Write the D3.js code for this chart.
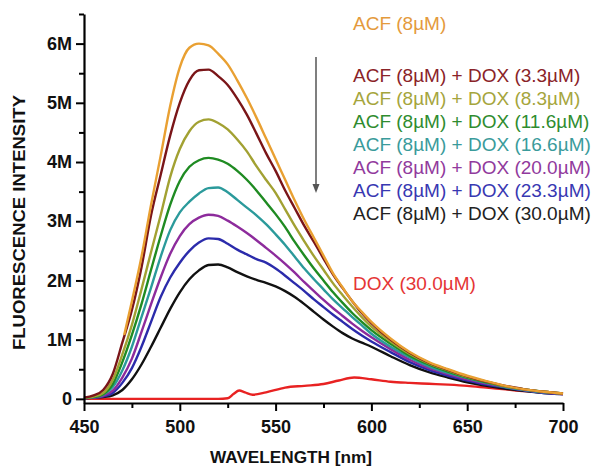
<!DOCTYPE html>
<html>
<head>
<meta charset="utf-8">
<script src="https://cdn.jsdelivr.net/npm/d3@7"></script>
<style>
  body { margin: 0; background: #fff; }
  svg { font-family: 'Liberation Sans', Arial, sans-serif; }
</style>
</head>
<body>
<svg id="chart" width="594" height="468"></svg>
<script>
// wavelength grid (nm) shared by the ACF + DOX spectra
const wavelengths = [450,455,460,465,470,475,480,485,490,495,500,505,510,515,520,525,530,535,540,545,550,
  555,560,565,570,575,580,585,590,595,600,610,620,630,640,650,660,670,680,690,700];

// ACF alone, recorded from 471 nm
const acfWavelengths = [471,475,480,485,490,495,500,505,510,515,520,525,530,535,540,545,550,555,560,565,570,
  575,580,585,590,595,600,610,620,630,640,650,660,670,680,690,700];
const acf = [1.08,1.65,2.4,3.28,4.1,4.95,5.6,5.93,6.0,5.97,5.83,5.65,5.38,5.08,4.75,4.4,4.05,3.7,3.35,3.02,2.72,
  2.42,2.12,1.88,1.65,1.47,1.3,1.02,0.79,0.62,0.5,0.39,0.3,0.22,0.16,0.12,0.09];

// intensities in millions
const dox33 = [0.02,0.06,0.15,0.42,0.95,1.5,2.22,3.1,3.78,4.45,5.0,5.38,5.55,5.56,5.45,5.3,5.07,4.8,4.48,4.15,3.85,
  3.52,3.22,2.92,2.65,2.37,2.1,1.87,1.65,1.45,1.28,1.0,0.78,0.61,0.49,0.38,0.29,0.22,0.16,0.12,0.09];
const dox83 = [0.02,0.04,0.1,0.32,0.75,1.25,1.85,2.48,3.1,3.75,4.22,4.52,4.68,4.72,4.66,4.55,4.38,4.18,3.93,3.7,3.48,
  3.2,2.92,2.66,2.41,2.18,1.95,1.75,1.56,1.38,1.22,0.97,0.76,0.6,0.48,0.37,0.29,0.21,0.16,0.12,0.09];
const dox116 = [0.02,0.03,0.08,0.25,0.62,1.08,1.6,2.18,2.75,3.28,3.68,3.92,4.03,4.07,4.04,3.97,3.85,3.7,3.52,3.32,3.12,
  2.9,2.65,2.42,2.2,2.0,1.8,1.62,1.45,1.3,1.16,0.93,0.73,0.58,0.46,0.36,0.28,0.21,0.16,0.12,0.09];
const dox166 = [0.01,0.03,0.07,0.2,0.48,0.88,1.38,1.88,2.4,2.85,3.15,3.33,3.47,3.56,3.57,3.49,3.36,3.23,3.1,2.95,2.78,
  2.6,2.4,2.2,2.02,1.85,1.68,1.53,1.38,1.24,1.1,0.88,0.7,0.55,0.44,0.35,0.27,0.2,0.15,0.11,0.09];
const dox200 = [0.01,0.02,0.05,0.14,0.36,0.68,1.13,1.6,2.05,2.45,2.75,2.95,3.06,3.11,3.09,3.01,2.91,2.8,2.68,2.55,2.42,
  2.28,2.13,1.97,1.82,1.67,1.53,1.4,1.27,1.15,1.04,0.84,0.66,0.52,0.42,0.33,0.26,0.2,0.15,0.11,0.08];
const dox233 = [0.01,0.02,0.04,0.1,0.27,0.52,0.88,1.3,1.72,2.05,2.3,2.5,2.64,2.71,2.7,2.62,2.52,2.44,2.36,2.3,2.2,
  2.08,1.95,1.82,1.68,1.55,1.42,1.3,1.18,1.07,0.97,0.79,0.62,0.49,0.39,0.31,0.24,0.19,0.14,0.1,0.08];
const dox300 = [0.01,0.02,0.03,0.06,0.15,0.33,0.58,0.88,1.2,1.52,1.8,2.02,2.17,2.26,2.27,2.22,2.14,2.07,2.01,1.96,1.9,
  1.82,1.72,1.6,1.47,1.34,1.22,1.11,1.02,0.95,0.88,0.72,0.57,0.45,0.36,0.28,0.22,0.17,0.13,0.1,0.08];

// DOX alone
const doxWavelengths = [450,520,525,528,531,534,538,545,555,565,575,583,591,600,610,620,630,640,650,660,670,680,690,700];
const doxOnly = [0,0,0.01,0.08,0.14,0.11,0.07,0.11,0.19,0.22,0.25,0.31,0.36,0.33,0.29,0.27,0.255,0.24,0.22,0.19,0.16,0.13,0.11,0.08];

const legendLabels = ['ACF (8µM)', 'ACF (8µM) + DOX (3.3µM)', 'ACF (8µM) + DOX (8.3µM)', 'ACF (8µM) + DOX (11.6µM)',
  'ACF (8µM) + DOX (16.6µM)', 'ACF (8µM) + DOX (20.0µM)', 'ACF (8µM) + DOX (23.3µM)', 'ACF (8µM) + DOX (30.0µM)',
  'DOX (30.0µM)'];
const lineColors = ['#e9a032', '#7a1518', '#a2a132', '#1f8b22', '#2b9a9b', '#8d2b9c', '#2b2bab', '#111111', '#e82222'];
const textColors = ['#e49a3c', '#8a2328', '#a5a53c', '#2f8c2f', '#3a9b9b', '#913a9d', '#3838b2', '#222222', '#e53535'];

const xTicks = [450, 500, 550, 600, 650, 700];
const xMinor = [475, 525, 575, 625, 675];
const yTicks = [0, 1, 2, 3, 4, 5, 6];
const yMinor = [0.5, 1.5, 2.5, 3.5, 4.5, 5.5, 6.5];

const svg = d3.select('#chart');

const x = d3.scaleLinear().domain([450, 700]).range([84, 563]);
const y = d3.scaleLinear().domain([-0.07, 6.5]).range([403, 14]);

// spectra, bottom to top
const seriesList = [
  {w: doxWavelengths, v: doxOnly, c: lineColors[8]},
  {w: wavelengths, v: dox300, c: lineColors[7]},
  {w: wavelengths, v: dox233, c: lineColors[6]},
  {w: wavelengths, v: dox200, c: lineColors[5]},
  {w: wavelengths, v: dox166, c: lineColors[4]},
  {w: wavelengths, v: dox116, c: lineColors[3]},
  {w: wavelengths, v: dox83, c: lineColors[2]},
  {w: wavelengths, v: dox33, c: lineColors[1]},
  {w: acfWavelengths, v: acf, c: lineColors[0]}
];

const line = d3.line()
  .x(d => x(d[0]))
  .y(d => y(d[1]))
  .curve(d3.curveMonotoneX);

svg.append('g').selectAll('path')
  .data(seriesList)
  .join('path')
  .attr('d', s => line(s.w.map((w, i) => [w, s.v[i]])))
  .attr('fill', 'none')
  .attr('stroke', s => s.c)
  .attr('stroke-width', 2.4)
  .attr('stroke-linejoin', 'round');

// axes
const styleAxis = g => {
  g.select('.domain').attr('stroke', '#000').attr('stroke-width', 2.2);
  g.selectAll('.tick line').attr('stroke', '#000').attr('stroke-width', 2);
  g.selectAll('.tick text')
    .attr('fill', '#111')
    .style('font-size', '18px')
    .style('font-weight', 'bold');
};

svg.append('g')
  .attr('transform', 'translate(0,403)')
  .call(d3.axisBottom(x).tickValues(xTicks).tickSize(8).tickSizeOuter(0).tickPadding(9))
  .call(styleAxis);

svg.append('g')
  .attr('transform', 'translate(0,403)')
  .call(d3.axisBottom(x).tickValues(xMinor).tickSize(5).tickFormat(''))
  .call(styleAxis)
  .select('.domain').remove();

svg.append('g')
  .attr('transform', 'translate(84,0)')
  .call(d3.axisLeft(y).tickValues(yTicks).tickSize(8).tickSizeOuter(0).tickPadding(4)
    .tickFormat(d => d === 0 ? '0' : d + 'M'))
  .call(styleAxis);

svg.append('g')
  .attr('transform', 'translate(84,0)')
  .call(d3.axisLeft(y).tickValues(yMinor).tickSize(5).tickFormat(''))
  .call(styleAxis)
  .select('.domain').remove();

// axis titles
svg.append('text')
  .attr('x', 210)
  .attr('y', 463)
  .attr('textLength', 162)
  .attr('lengthAdjust', 'spacingAndGlyphs')
  .style('font-size', '16px')
  .style('font-weight', 'bold')
  .attr('fill', '#111')
  .text('WAVELENGTH [nm]');

svg.append('text')
  .attr('transform', 'translate(25,350) rotate(-90)')
  .attr('textLength', 255)
  .attr('lengthAdjust', 'spacingAndGlyphs')
  .style('font-size', '17px')
  .style('font-weight', 'bold')
  .attr('fill', '#111')
  .text('FLUORESCENCE INTENSITY');

// legend
const legendY = i => i === 0 ? 30 : (i === 8 ? 290 : 82 + (i - 1) * 23);
svg.append('g').selectAll('text')
  .data(legendLabels)
  .join('text')
  .attr('x', 353)
  .attr('y', (d, i) => legendY(i))
  .attr('fill', (d, i) => textColors[i])
  .style('font-size', '19px')
  .text(d => d);

// arrow
svg.append('line')
  .attr('x1', 316).attr('y1', 57)
  .attr('x2', 316).attr('y2', 188)
  .attr('stroke', '#555')
  .attr('stroke-width', 1.5);
svg.append('path')
  .attr('d', 'M312.5,184 L316,193 L319.5,184 Z')
  .attr('fill', '#555');
</script>
</body>
</html>
